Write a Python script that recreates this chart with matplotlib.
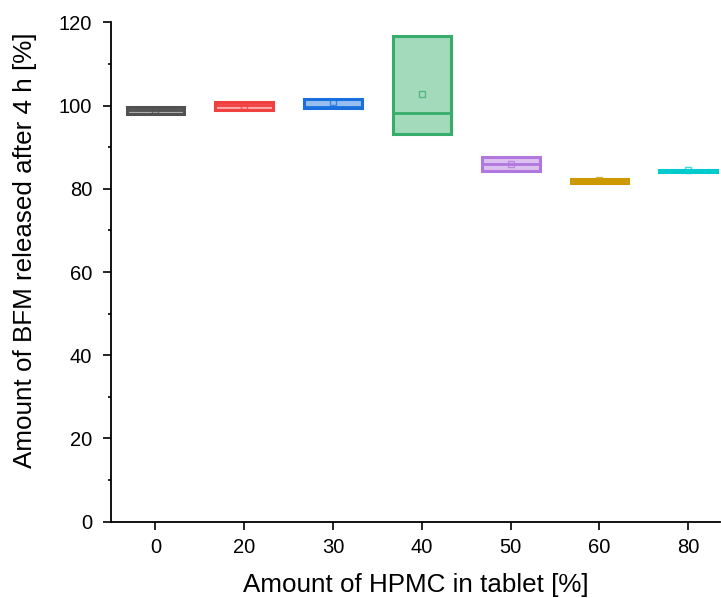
import numpy as np
import matplotlib
matplotlib.use("Agg")
import matplotlib.pyplot as plt
from matplotlib.colors import to_rgba

plt.rcParams['font.family'] = ['Liberation Sans', 'DejaVu Sans']

groups = ['0', '20', '30', '40', '50', '60', '80']
q1 = [97.96, 99.0, 99.5, 93.2, 84.3, 81.4, 84.0]
med = [98.9, 100.05, 99.6, 98.3, 86.0, 81.9, 84.25]
q3 = [99.7, 100.8, 101.7, 116.8, 87.6, 82.4, 84.5]
means = [98.85, 100.0, 100.8, 102.8, 86.0, 82.2, 84.4]
colors = ['#515151', '#F14040', '#1A6FDF', '#37AD6B', '#B177DE', '#CC9900', '#00CBCC']

stats = []
for i, g in enumerate(groups):
    stats.append({'label': g, 'q1': q1[i], 'med': med[i], 'q3': q3[i],
                  'mean': means[i], 'whislo': q1[i], 'whishi': q3[i], 'fliers': []})

fig = plt.figure(figsize=(7.21, 5.98), dpi=100)
ax = fig.add_axes([0.154, 0.1276, 0.845, 0.835])

pos = np.arange(len(groups))
for i in range(len(groups)):
    c = colors[i]
    ax.bxp([stats[i]], positions=[pos[i]], widths=0.65, patch_artist=True,
           showmeans=True, showcaps=False,
           boxprops=dict(facecolor=to_rgba(c, 0.45), edgecolor=c, linewidth=2.2),
           medianprops=dict(color=c, linewidth=2),
           whiskerprops=dict(color=c, linewidth=0),
           meanprops=dict(marker='s', markersize=5, markerfacecolor='none',
                          markeredgecolor=to_rgba(c, 0.75), markeredgewidth=1))

ax.set_xlim(-0.5, 6.36)
ax.set_ylim(0, 120)
ax.set_xticks(pos)
ax.set_xticklabels(groups)
ax.set_yticks(np.arange(0, 121, 20))
ax.set_yticks(np.arange(10, 120, 20), minor=True)

for s in ['top', 'right']:
    ax.spines[s].set_visible(False)
for s in ['left', 'bottom']:
    ax.spines[s].set_linewidth(1.3)

ax.tick_params(axis='both', which='major', direction='out', length=5.5, width=1.2,
               labelsize=14.5)
ax.tick_params(axis='y', which='major', pad=8)
ax.tick_params(axis='y', which='minor', direction='out', length=2.5, width=1.2)
ax.tick_params(axis='x', pad=6)

ax.set_xlabel('Amount of HPMC in tablet [%]', fontsize=18.7, labelpad=12)
ax.set_ylabel('Amount of BFM released after 4 h [%]', fontsize=18.7)
ax.yaxis.set_label_coords(-0.121, 0.544)

fig.savefig('out.png', dpi=100)
